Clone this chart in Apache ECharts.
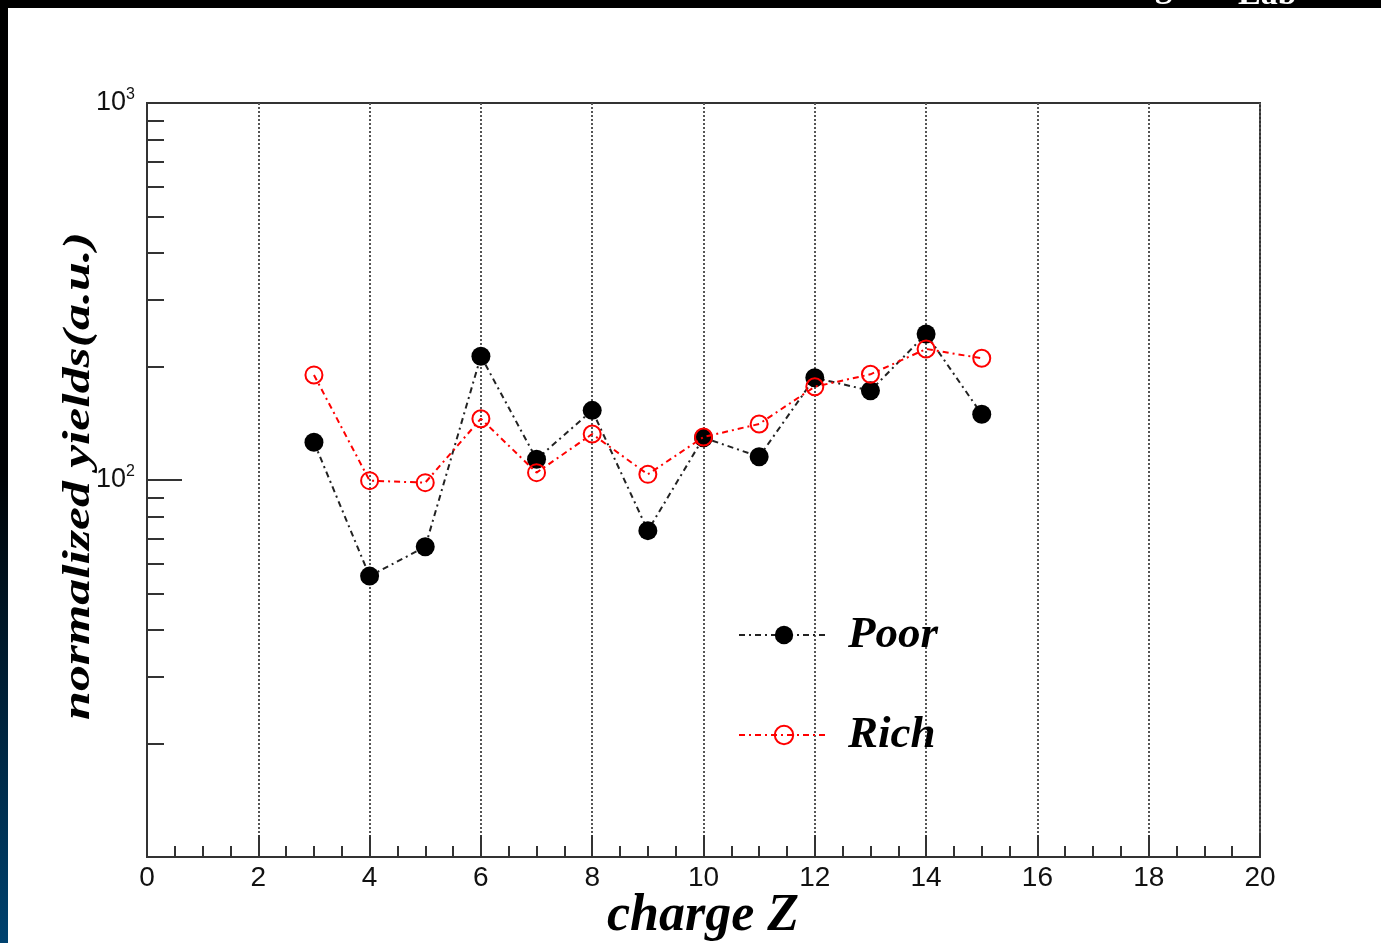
<!DOCTYPE html>
<html>
<head>
<meta charset="utf-8">
<script src="https://cdn.jsdelivr.net/npm/echarts@6/dist/echarts.min.js"></script>
<style>
  html, body { margin: 0; padding: 0; background: #fff; }
  #chart { width: 1381px; height: 943px; }
</style>
</head>
<body>
<div id="chart"></div>
<script>
// Charge number Z of the fragments
const chargeZ = [3, 4, 5, 6, 7, 8, 9, 10, 11, 12, 13, 14, 15];
// Normalized yields (a.u.)
const poorYields = [126, 55.6, 66.5, 213, 113.5, 153, 73.4, 129.5, 115.3, 186.7, 172.5, 244, 149.4];
const richYields = [190, 99.6, 98.4, 145.4, 104.6, 132.4, 103.5, 130, 140.8, 176.8, 190.7, 222.6, 210.3];

// Axis ticks
const xTickInterval = 2;
const yMajorTicks = [10, 100, 1000];
const yMinorTicks = [20, 30, 40, 50, 60, 70, 80, 90, 200, 300, 400, 500, 600, 700, 800, 900];
const yLabelExponents = { 100: '2', 1000: '3' };

const yTitle = 'normalized yields(a.u.)';
const xTitle = 'charge Z';

const serifBI = { fontFamily: 'Liberation Serif', fontStyle: 'italic', fontWeight: 'bold', color: '#000' };
const dashDot = [6, 4, 2, 4];

const toPairs = (ys) => chargeZ.map((z, i) => [z, ys[i]]);

const chart = echarts.init(document.getElementById('chart'), null, { renderer: 'canvas' });

chart.setOption({
  backgroundColor: '#ffffff',
  animation: false,
  graphic: [
    { type: 'rect', left: 0, top: 0, shape: { width: 1381, height: 8 }, style: { fill: '#000' }, z: 100 },
    {
      type: 'rect', left: 0, top: 0, shape: { width: 8, height: 943 }, z: 100,
      style: {
        fill: new echarts.graphic.LinearGradient(0, 0, 0, 1, [
          { offset: 0, color: '#000000' },
          { offset: 0.5, color: '#000205' },
          { offset: 1, color: '#00426f' }
        ])
      }
    },
    { type: 'text', x: 1155, y: 5, z: 101, style: { text: 'g', fill: '#fff', font: 'bold 34px "Liberation Serif"', verticalAlign: 'bottom' } },
    { type: 'text', x: 1238, y: 12, z: 101, style: { text: 'Lab', fill: '#fff', font: 'bold 34px "Liberation Serif"', verticalAlign: 'bottom' } },
    // vertical axis title, widened along its baseline
    {
      type: 'text', x: 79, y: 476, rotation: Math.PI / 2, scaleX: 1.4, scaleY: 1, z: 50,
      style: {
        text: yTitle, fill: '#000', align: 'center', verticalAlign: 'middle',
        font: 'italic bold 37px "Liberation Serif"'
      }
    },
    // horizontal axis title, centred under the plot frame
    {
      type: 'text', x: 703, y: 917, z: 50,
      style: {
        text: xTitle, fill: '#000', align: 'center', verticalAlign: 'middle',
        font: 'italic bold 52px "Liberation Serif"'
      }
    }
  ],
  grid: {
    left: 147, right: 121, top: 103, bottom: 86,
    outerBoundsMode: 'none', containLabel: false,
    show: true, borderColor: '#333', borderWidth: 2, backgroundColor: '#fff'
  },
  legend: {
    left: 733, top: 604, orient: 'vertical',
    itemWidth: 90, itemHeight: 23, itemGap: 48,
    textStyle: Object.assign({ fontSize: 45, lineHeight: 52, padding: [0, 0, 0, 14] }, serifBI),
    data: ['Poor', 'Rich']
  },
  xAxis: {
    type: 'value', min: 0, max: 20, interval: xTickInterval,
    axisLine: { show: true, lineStyle: { color: '#333', width: 2 } },
    axisTick: { show: true, inside: true, length: 22, lineStyle: { color: '#333', width: 2 } },
    minorTick: { show: true, splitNumber: 4, length: 11, lineStyle: { color: '#333', width: 2 } },
    axisLabel: { fontFamily: 'Liberation Sans', fontSize: 28, color: '#111', margin: 7 },
    splitLine: { show: true, lineStyle: { color: '#555', width: 2, type: [2, 2] } }
  },
  yAxis: [
    {
      type: 'log', logBase: 10, min: 10, max: 1000,
      axisLine: { show: true, lineStyle: { color: '#333', width: 2 } },
      axisTick: { show: true, inside: true, length: 35, customValues: yMajorTicks, lineStyle: { color: '#333', width: 2 } },
      splitLine: { show: false },
      axisLabel: {
        margin: 12,
        customValues: [100, 1000],
        formatter: (v) => yLabelExponents[Math.round(v)] ? '{b|10}{s|' + yLabelExponents[Math.round(v)] + '}' : '',
        rich: {
          b: { fontFamily: 'Liberation Sans', fontSize: 27, color: '#111' },
          s: { fontFamily: 'Liberation Sans', fontSize: 16, color: '#111', padding: [0, 0, 16, 0] }
        }
      }
    },
    {
      type: 'log', logBase: 10, min: 10, max: 1000, position: 'left',
      axisLine: { show: false },
      axisTick: { show: true, inside: true, length: 17, customValues: yMinorTicks, lineStyle: { color: '#333', width: 2 } },
      axisLabel: { show: false },
      splitLine: { show: false }
    }
  ],
  series: [
    {
      name: 'Poor', type: 'line', data: toPairs(poorYields), yAxisIndex: 0,
      symbol: 'circle', symbolSize: 19,
      itemStyle: { color: '#000' },
      lineStyle: { color: '#222', width: 2, type: dashDot },
      z: 3
    },
    {
      name: 'Rich', type: 'line', data: toPairs(richYields), yAxisIndex: 0,
      symbol: 'circle', symbolSize: 17,
      itemStyle: { color: 'rgba(255,255,255,0)', borderColor: '#ff0000', borderWidth: 2 },
      lineStyle: { color: '#ff0000', width: 2, type: dashDot },
      z: 4
    }
  ]
});
</script>
</body>
</html>
